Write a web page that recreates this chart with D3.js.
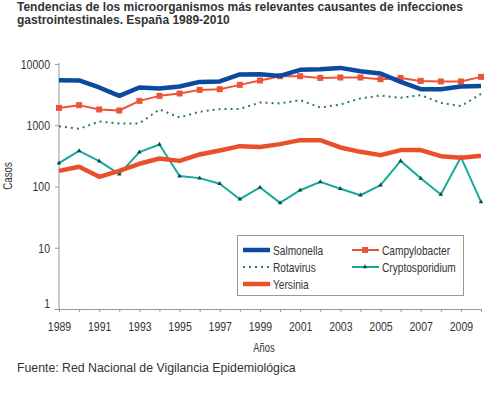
<!DOCTYPE html>
<html>
<head>
<meta charset="utf-8">
<script src="https://cdn.jsdelivr.net/npm/d3@7"></script>
<style>
  body { margin: 0; background: #fff; }
  svg { display: block; }
  .cond { font-family: "Liberation Sans", Arial, sans-serif; }
</style>
</head>
<body>
<div id="chart"></div>
<script>
// years on the x axis
const years = d3.range(1989, 2011);
const yTicks = [1, 10, 100, 1000, 10000];
const xTickLabels = [1989, 1991, 1993, 1995, 1997, 1999, 2001, 2003, 2005, 2007, 2009];

// series (casos)
const salmonella = [5440, 5380, 4140, 3020, 4140, 3980, 4300, 5100, 5190, 6750, 6820, 6400, 8020, 8230, 8640, 7630, 7000, 5100, 3880, 3880, 4300, 4390];
const campylobacter = [1920, 2130, 1810, 1740, 2500, 3020, 3300, 3780, 3880, 4560, 5380, 6320, 6320, 5930, 6020, 6020, 5650, 5930, 5300, 5190, 5190, 6160];
const rotavirus = [967, 873, 1150, 1070, 1070, 1810, 1340, 1660, 1830, 1850, 2350, 2270, 2570, 1950, 2180, 2740, 3060, 2800, 3100, 2320, 2050, 3250];
const cryptosporidium = [241, 382, 260, 159, 364, 486, 148, 137, 111, 62, 97, 54, 87, 119, 92, 72, 105, 262, 136, 74, 302, 56];
const yersinia = [180, 210, 144, 180, 235, 287, 262, 334, 388, 456, 440, 492, 571, 571, 434, 368, 325, 393, 393, 313, 294, 317];

const W = 500, H = 393;
const SX = 0.78; // horizontal squeeze for the narrow font look
const svg = d3.select('#chart').append('svg')
    .attr('width', W)
    .attr('height', H);

const x = d3.scaleLinear().domain([1989, 2010]).range([59, 481]);
const y = d3.scaleLog().domain([1, 10000]).range([309, 64]);

// narrow text helper
function condText (g, tx, ty, str, size, anchor) {
    return g.append('text')
        .attr('class', 'cond')
        .attr('transform', 'translate(' + tx + ',' + ty + ') scale(' + SX + ',1)')
        .attr('text-anchor', anchor || 'start')
        .style('font-size', size + 'px')
        .style('fill', '#333')
        .text(str);
}

// Title
const titleStyle = t => t
    .style('font-family', 'Liberation Sans, Arial, sans-serif')
    .style('font-weight', 'bold')
    .style('font-size', '12px')
    .style('fill', '#333');
svg.append('text').attr('x', 17).attr('y', 11).call(titleStyle)
    .text('Tendencias de los microorganismos más relevantes causantes de infecciones');
svg.append('text').attr('x', 17).attr('y', 24).call(titleStyle)
    .text('gastrointestinales. España 1989-2010');

// Axes
const yAxis = d3.axisLeft(y).tickValues(yTicks).tickFormat(d3.format('d')).tickSize(4);
const gy = svg.append('g').attr('transform', 'translate(59,0)').call(yAxis);
gy.select('.domain').attr('d', 'M0,63V309');
gy.selectAll('text')
    .attr('x', -9 / SX)
    .attr('dy', (d) => d === 1 ? '-0.1em' : '0.32em')
    .attr('transform', 'scale(' + SX + ',1)');

const xAxis = d3.axisBottom(x).tickValues(years).tickSize(3).tickPadding(9)
    .tickFormat(d => xTickLabels.indexOf(d) !== -1 ? d : '');
const gx = svg.append('g').attr('transform', 'translate(0,309)').call(xAxis);
gx.selectAll('text').attr('transform', 'scale(' + SX + ',1)');

[gx, gy].forEach(g => {
    g.selectAll('.domain, line').attr('stroke', '#999');
    g.selectAll('text')
        .attr('class', 'cond')
        .style('font-size', '13.5px')
        .style('fill', '#333');
});

// Axis titles
condText(svg, 264, 352, 'Años', 12, 'middle');
condText(svg, 0, 0, 'Casos', 12.5, 'middle')
    .attr('transform', 'translate(12,176) rotate(-90) scale(' + SX + ',1)');

// Lines
const series = [
    { name: 'Rotavirus', values: rotavirus, color: '#2f7d55', width: 2, dash: '2,4', marker: null },
    { name: 'Cryptosporidium', values: cryptosporidium, color: '#17a99b', width: 2, dash: null, marker: 'triangle' },
    { name: 'Yersinia', values: yersinia, color: '#ea4f2c', width: 4.5, dash: null, marker: null },
    { name: 'Campylobacter', values: campylobacter, color: '#ea5438', width: 2, dash: null, marker: 'square' },
    { name: 'Salmonella', values: salmonella, color: '#0a4a9f', width: 4.5, dash: null, marker: null }
];

const line = d3.line()
    .x((d, i) => x(years[i]))
    .y(d => y(d))
    .curve(d3.curveLinear);

function drawMarker (g, type, cx, cy, color) {
    if (type === 'square') {
        g.append('rect')
            .attr('x', cx - 3).attr('y', cy - 3)
            .attr('width', 6).attr('height', 6)
            .attr('fill', color);
    } else if (type === 'triangle') {
        g.append('path')
            .attr('d', d3.symbol().type(d3.symbolTriangle).size(9)())
            .attr('transform', 'translate(' + cx + ',' + cy + ')')
            .attr('fill', '#0d4d44');
    }
}

series.forEach(s => {
    const g = svg.append('g');
    g.append('path')
        .datum(s.values)
        .attr('d', line)
        .attr('fill', 'none')
        .attr('stroke', s.color)
        .attr('stroke-width', s.width)
        .attr('stroke-linejoin', 'round')
        .attr('stroke-dasharray', s.dash);
    if (s.marker) {
        s.values.forEach((v, i) => drawMarker(g, s.marker, x(years[i]), y(v), s.color));
    }
});

// Legend
const legend = svg.append('g');
legend.append('rect')
    .attr('x', 237.5).attr('y', 235.5)
    .attr('width', 226).attr('height', 60)
    .attr('fill', '#fff')
    .attr('stroke', '#999');

const legendItems = [
    { s: series[4], lx: 243, ly: 250 },
    { s: series[3], lx: 352, ly: 250 },
    { s: series[0], lx: 243, ly: 267 },
    { s: series[1], lx: 352, ly: 267 },
    { s: series[2], lx: 243, ly: 284 }
];

legendItems.forEach(it => {
    const s = it.s;
    legend.append('line')
        .attr('x1', it.lx).attr('x2', it.lx + 27)
        .attr('y1', it.ly).attr('y2', it.ly)
        .attr('stroke', s.color)
        .attr('stroke-width', s.width)
        .attr('stroke-dasharray', s.dash);
    if (s.marker) drawMarker(legend, s.marker, it.lx + 13, it.ly, s.color);
    condText(legend, it.lx + 30, it.ly + 5, s.name, 13);
});

// Source
svg.append('text')
    .attr('x', 17)
    .attr('y', 372)
    .style('font-family', 'Liberation Sans, Arial, sans-serif')
    .style('font-size', '12.3px')
    .style('fill', '#333')
    .text('Fuente: Red Nacional de Vigilancia Epidemiológica');
</script>
</body>
</html>
